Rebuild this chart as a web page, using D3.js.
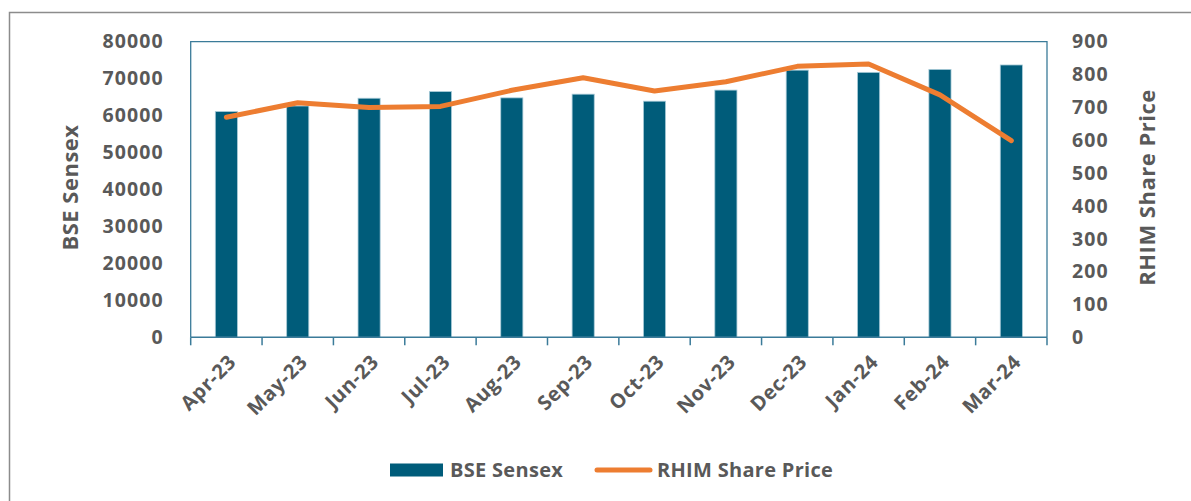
<!DOCTYPE html>
<html>
<head>
<meta charset="utf-8">
<script src="https://cdn.jsdelivr.net/npm/d3@7"></script>
<style>
  body { margin: 0; background: #fff; }
  svg text { font-family: "Open Sans", sans-serif; font-weight: 700; fill: #595959; }
</style>
</head>
<body>
<script>
var months = ["Apr-23", "May-23", "Jun-23", "Jul-23", "Aug-23", "Sep-23", "Oct-23", "Nov-23", "Dec-23", "Jan-24", "Feb-24", "Mar-24"];
var sensex = [61100, 62600, 64700, 66500, 64800, 65800, 63900, 66900, 72300, 71700, 72500, 73700];
var rhim = [670, 714, 700, 703, 752, 790, 750, 778, 825, 832, 738, 599];
var leftTicks = [0, 10000, 20000, 30000, 40000, 50000, 60000, 70000, 80000];
var rightTicks = [0, 100, 200, 300, 400, 500, 600, 700, 800, 900];

var W = 1191, H = 501;
var plot = {left: 190.7, top: 41.7, right: 1047, bottom: 337.3};
var barColor = "#005c7a";
var lineColor = "#ed7d31";
var axisColor = "#3b7b99";

var svg = d3.select("body").append("svg")
    .attr("width", W)
    .attr("height", H);

// outer frame (cut off at right and bottom)
svg.append("rect")
    .attr("x", 9.5).attr("y", 12.5)
    .attr("width", 1200).attr("height", 520)
    .attr("fill", "none")
    .attr("stroke", "#8c8c8c")
    .attr("stroke-width", 1.5);

var x = d3.scaleBand().domain(months).range([plot.left, plot.right]).padding(0);
var yL = d3.scaleLinear().domain([0, 80000]).range([plot.bottom, plot.top]);
var yR = d3.scaleLinear().domain([0, 900]).range([plot.bottom, plot.top]);
var barW = x.bandwidth() * 0.31;

// plot box
svg.append("path")
    .attr("d", "M" + plot.left + "," + plot.bottom + "V" + plot.top + "H" + plot.right + "V" + plot.bottom)
    .attr("fill", "none")
    .attr("stroke", axisColor)
    .attr("stroke-width", 1.3);

// bars
svg.selectAll("rect.bar")
    .data(sensex)
    .enter()
    .append("rect")
    .attr("class", "bar")
    .attr("x", function(d, i){ return x(months[i]) + x.bandwidth()/2 - barW/2; })
    .attr("y", function(d){ return yL(d); })
    .attr("width", barW)
    .attr("height", function(d){ return plot.bottom - yL(d); })
    .attr("fill", barColor)
    .attr("stroke", "#a9cbd8")
    .attr("stroke-width", 0.8);

// x axis
var xAxis = svg.append("g")
    .attr("transform", "translate(0," + plot.bottom + ")");
xAxis.append("line")
    .attr("x1", plot.left).attr("x2", plot.right)
    .attr("stroke", axisColor).attr("stroke-width", 1.5);
var bounds = months.map(function(m){ return x(m); }).concat([plot.right]);
xAxis.selectAll("line.tick")
    .data(bounds)
    .enter()
    .append("line")
    .attr("class", "tick")
    .attr("x1", function(d){ return d; }).attr("x2", function(d){ return d; })
    .attr("y1", 0).attr("y2", 8)
    .attr("stroke", axisColor).attr("stroke-width", 1.5);
xAxis.selectAll("text")
    .data(months)
    .enter()
    .append("text")
    .attr("transform", function(d){
        return "translate(" + (x(d) + x.bandwidth()/2 + 6) + ",21) rotate(-45)";
    })
    .attr("text-anchor", "end")
    .attr("dy", "0.35em")
    .style("font-size", "20px")
    .style("letter-spacing", "0.6px")
    .text(function(d){ return d; });

// left axis labels
svg.append("g")
    .attr("transform", "translate(" + (plot.left - 24) + ",0)")
    .call(d3.axisLeft(yL).tickValues(leftTicks).tickSize(0).tickFormat(d3.format("d")))
    .call(function(g){ g.select(".domain").remove(); })
    .selectAll("text")
    .style("font-size", "19.5px")
    .style("letter-spacing", "1.1px")
    .attr("font-family", null)
    .attr("fill", null);

// right axis labels
svg.append("g")
    .attr("transform", "translate(" + (plot.right + 22) + ",0)")
    .call(d3.axisRight(yR).tickValues(rightTicks).tickSize(0).tickFormat(d3.format("d")))
    .call(function(g){ g.select(".domain").remove(); })
    .selectAll("text")
    .style("font-size", "19.5px")
    .style("letter-spacing", "1.1px")
    .attr("font-family", null)
    .attr("fill", null);

// line
var line = d3.line()
    .x(function(d, i){ return x(months[i]) + x.bandwidth()/2; })
    .y(function(d){ return yR(d); });
svg.append("path")
    .datum(rhim)
    .attr("d", line)
    .attr("fill", "none")
    .attr("stroke", lineColor)
    .attr("stroke-width", 5)
    .attr("stroke-linecap", "round")
    .attr("stroke-linejoin", "round");

// axis titles
var midY = (plot.top + plot.bottom) / 2 - 2;
svg.append("text")
    .attr("transform", "translate(78," + midY + ") rotate(-90)")
    .attr("text-anchor", "middle")
    .style("font-size", "22px")
    .style("letter-spacing", "0.5px")
    .text("BSE Sensex");
svg.append("text")
    .attr("transform", "translate(1155," + midY + ") rotate(-90)")
    .attr("text-anchor", "middle")
    .style("font-size", "22px")
    .style("letter-spacing", "0.5px")
    .text("RHIM Share Price");

// legend
var lg = svg.append("g");
lg.append("rect")
    .attr("x", 390).attr("y", 463.5)
    .attr("width", 53).attr("height", 13)
    .attr("fill", barColor);
lg.append("text")
    .attr("x", 450).attr("y", 477)
    .style("font-size", "20px")
    .style("letter-spacing", "0.3px")
    .text("BSE Sensex");
lg.append("line")
    .attr("x1", 597).attr("x2", 650)
    .attr("y1", 470).attr("y2", 470)
    .attr("stroke", lineColor)
    .attr("stroke-width", 5)
    .attr("stroke-linecap", "round");
lg.append("text")
    .attr("x", 657).attr("y", 477)
    .style("font-size", "20px")
    .style("letter-spacing", "0.3px")
    .text("RHIM Share Price");
</script>
</body>
</html>
